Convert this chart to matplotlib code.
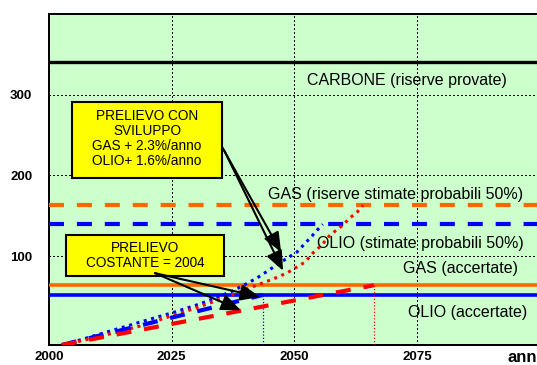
import matplotlib.pyplot as plt
from matplotlib.patches import Rectangle

plt.rcParams['font.family'] = ['Liberation Sans', 'DejaVu Sans']

# riserve (linee orizzontali)
riserve_nomi = ["CARBONE (riserve provate)", "GAS (riserve stimate probabili 50%)",
                "OLIO (stimate probabili 50%)", "GAS (accertate)", "OLIO (accertate)"]
riserve_valori = [340, 163, 139.5, 64, 52]

# prelievo costante = 2004
anni_olio_cost = [2002.6, 2043.6]
olio_cost = [-10, 52]
anni_gas_cost = [2002.6, 2066.2]
gas_cost = [-10, 64]

# prelievo con sviluppo
anni_olio_svil = [2002.9, 2008.4, 2014.5, 2020.6, 2025.7, 2030.8, 2037.5,
                  2042.4, 2047.1, 2050.5, 2052.2, 2053.6, 2054.6, 2055.8]
olio_svil = [-10, 0, 11, 22, 31, 41, 57, 73, 92, 105, 116, 125, 132, 139.5]
anni_gas_svil = [2002.9, 2010.0, 2018.6, 2028.7, 2036.3, 2042.4, 2045.7, 2048.5,
                 2050.5, 2052.2, 2053.8, 2055.6, 2057.3, 2059.9, 2061.3, 2062.8, 2064.0]
gas_svil = [-10, 0, 13.5, 33.4, 49.5, 64.3, 71.8, 79.2, 86.6, 92.8, 104,
            113.9, 126.3, 138.6, 147.3, 154.7, 163]

anni_tick = [2000, 2025, 2050, 2075]
valori_tick = [100, 200, 300]

ARANCIO = '#FF6600'
BLU = '#0000FF'
ROSSO = '#FF0000'
puntini = (0, (1, 1.6))

fig = plt.figure(figsize=(5.37, 3.65), dpi=100)
ax = fig.add_axes([49 / 537, 20 / 365, 490.7 / 537, 331 / 365])
ax.set_facecolor('#CCFFCC')
ax.set_xlim(2000, 2100)
ax.set_ylim(-10, 400)

ax.set_xticks(anni_tick)
ax.set_yticks(valori_tick)
ax.tick_params(length=0, labelsize=9.5)
ax.tick_params(axis='y', pad=12)
ax.tick_params(axis='x', pad=4)
for lab in ax.get_xticklabels() + ax.get_yticklabels():
    lab.set_fontweight('bold')
ax.grid(True, color='black', linestyle=puntini, linewidth=1.0, antialiased=False)
for s in ax.spines.values():
    s.set_linestyle((0, (1, 1.2)))
    s.set_linewidth(1.4)
    s.set_antialiased(False)
ax.spines['right'].set_visible(False)

# linee delle riserve
ax.axhline(riserve_valori[0], color='black', lw=2.4, zorder=3)
ax.axhline(riserve_valori[1], color=ARANCIO, lw=3, linestyle=(0, (3.6, 3.1)), zorder=3)
ax.axhline(riserve_valori[2], color=BLU, lw=3, linestyle=(0, (3.6, 3.1)), zorder=3)
ax.axhline(riserve_valori[3], color=ARANCIO, lw=2.6, zorder=3)
ax.axhline(riserve_valori[4], color=BLU, lw=2.6, zorder=3)

# scritte delle riserve
pos_scritte = [(2052.6, 318), (2044.6, 176), (2054.6, 116), (2072.1, 85), (2073.2, 30)]
for nome, (x, y) in zip(riserve_nomi, pos_scritte):
    ax.text(x, y, nome, fontsize=11.5, va='center', ha='left', zorder=4)

# curve di prelievo
ax.plot(anni_olio_svil, olio_svil, color=BLU, lw=2.2, linestyle=(0, (1, 1.5)), zorder=5)
ax.plot(anni_gas_svil, gas_svil, color=ROSSO, lw=2.2, linestyle=(0, (1, 1.5)), zorder=5)
ax.plot(anni_olio_cost, olio_cost, color=BLU, lw=3, linestyle=(0, (3.6, 3.1)), zorder=5)
ax.plot(anni_gas_cost, gas_cost, color=ROSSO, lw=3, linestyle=(0, (3.6, 3.1)), zorder=5)

# anno di esaurimento
ax.vlines(anni_olio_cost[-1], -10, olio_cost[-1], color=BLU, lw=0.9, linestyle=puntini, zorder=4)
ax.vlines(anni_gas_cost[-1], -10, gas_cost[-1], color=ROSSO, lw=0.9, linestyle=puntini, zorder=4)

# riquadri gialli
ax.add_patch(Rectangle((2004.7, 197), 30.6, 94, facecolor='#FFFF00',
                       edgecolor='black', lw=1.5, zorder=6))
ax.text(2020, 246, "PRELIEVO CON\nSVILUPPO\nGAS + 2.3%/anno\nOLIO+ 1.6%/anno",
        ha='center', va='center', fontsize=9.8, linespacing=1.1, zorder=7)
ax.add_patch(Rectangle((2003.5, 75.5), 32.2, 51, facecolor='#FFFF00',
                       edgecolor='black', lw=1.5, zorder=6))
ax.text(2019.6, 101, "PRELIEVO\nCOSTANTE = 2004",
        ha='center', va='center', fontsize=9.8, linespacing=1.1, zorder=7)

# frecce
freccia = dict(arrowstyle='-|>,head_length=1.2,head_width=0.5', color='black',
               lw=1.5, shrinkA=0, shrinkB=0)
for (x0, y0), (x1, y1) in [((2035.3, 235), (2047.3, 105)),
                           ((2035.7, 231), (2047.7, 82)),
                           ((2021.6, 79), (2039.1, 33)),
                           ((2021.6, 79), (2043.0, 49.5))]:
    ax.annotate("", xy=(x1, y1), xytext=(x0, y0), arrowprops=freccia, zorder=8)

fig.text(508 / 537, 1 - 357 / 365, "anni", fontsize=12, fontweight='bold',
         va='center', ha='left')

fig.savefig('out.png', dpi=100)
